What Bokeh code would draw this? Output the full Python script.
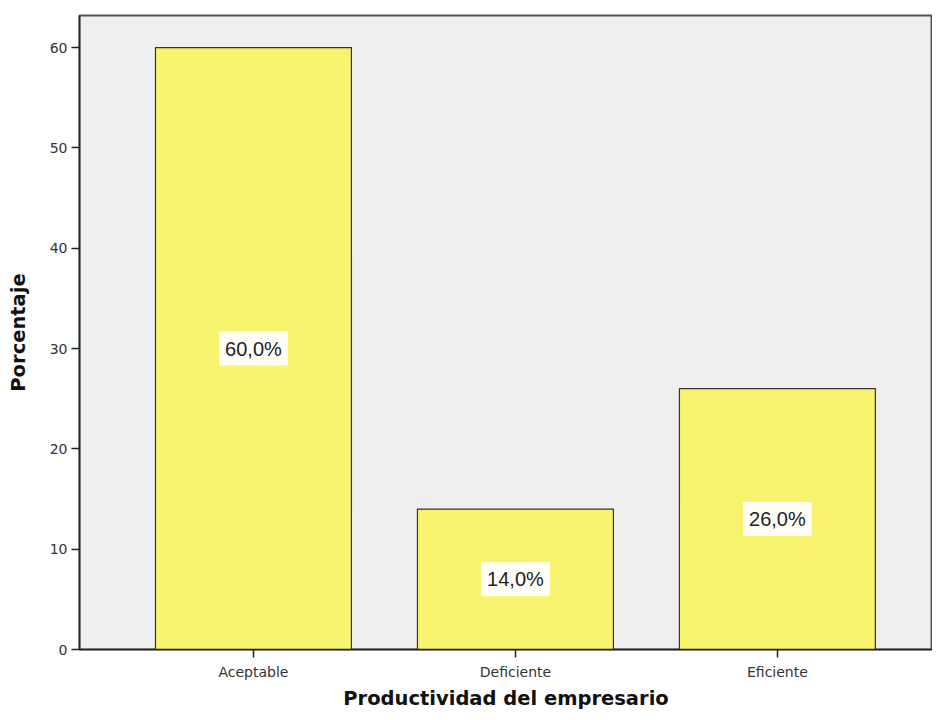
from bokeh.plotting import figure
from bokeh.models import ColumnDataSource, Range1d
from bokeh.core.properties import value
from bokeh.embed import file_html
from bokeh.resources import INLINE

categories = ["Aceptable", "Deficiente", "Eficiente"]
percentages = [60.0, 14.0, 26.0]
labels = ["60,0%", "14,0%", "26,0%"]
y_ticks = [0, 10, 20, 30, 40, 50, 60]

xpos = [i + 0.5 for i in range(len(categories))]
source = ColumnDataSource(data=dict(
    x=xpos,
    cat=categories,
    pct=percentages,
    mid=[v / 2 for v in percentages],
    lab=labels,
))

p = figure(
    x_range=Range1d(-0.164, 3.092),
    y_range=Range1d(0, 63.2),
    width=932, height=712,
    output_backend="svg", toolbar_location=None,
    min_border_left=79, min_border_right=0, min_border_top=15, min_border_bottom=63,
)

p.background_fill_color = "#EFEFEF"
p.border_fill_color = "white"
p.outline_line_color = "#555555"
p.outline_line_width = 2
p.grid.visible = False

p.vbar(x="x", top="pct", width=0.748, source=source,
       fill_color="#F9F46F", line_color="#333333", line_width=1.2)

p.text(x="x", y="mid", text="lab", source=source,
       text_align="center", text_baseline="middle",
       text_font=value("Liberation Sans"), text_font_size="20px", text_color="#222222",
       background_fill_color="white", background_fill_alpha=0.95, padding=6)

p.yaxis.ticker = y_ticks
p.xaxis.ticker = xpos
p.xaxis.major_label_overrides = {x: c for x, c in zip(xpos, categories)}
p.yaxis.axis_label = "Porcentaje"
p.xaxis.axis_label = "Productividad del empresario"
for ax in (p.xaxis, p.yaxis):
    ax.axis_label_text_font = "DejaVu Sans"
    ax.axis_label_text_font_style = "bold"
    ax.axis_label_text_font_size = "19.5px"
    ax.axis_label_text_color = "#111111"
    ax.major_label_text_font = "DejaVu Sans"
    ax.major_label_text_color = "#333333"
    ax.major_label_text_font_size = "14px"
    ax.axis_line_color = "#222222"
    ax.axis_line_width = 1.5
    ax.major_tick_line_color = "#222222"
    ax.major_tick_line_width = 1.5
    ax.major_tick_in = 0
    ax.major_tick_out = 8
    ax.minor_tick_line_color = None
p.yaxis.major_label_standoff = 4
p.xaxis.major_label_standoff = 6
p.yaxis.axis_label_standoff = 17
p.xaxis.axis_label_standoff = 4

open("out.html", "w").write(file_html(p, INLINE))
